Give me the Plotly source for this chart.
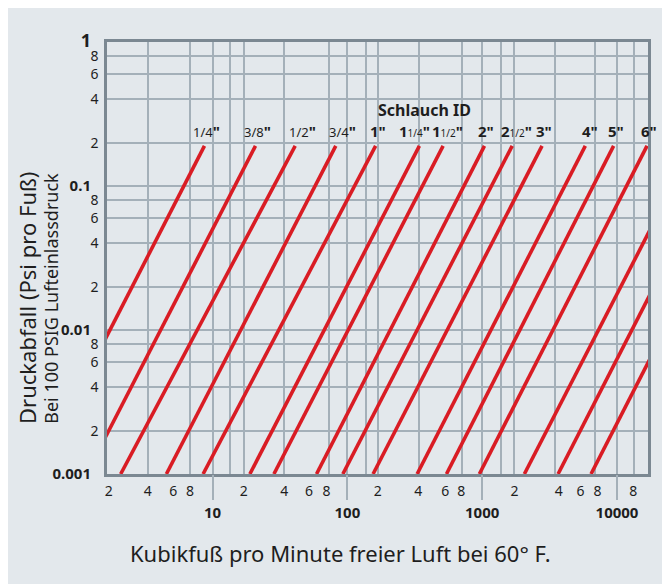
import math
import plotly.graph_objects as go

# hose inner diameters; the three largest lines carry no label in the chart
hose_labels = ["1/4", "3/8", "1/2", "3/4", "1", "1 1/4", "1 1/2", "2", "2 1/2",
               "3", "4", "5", "6", "", "", ""]
# flow (cfm) where each line reaches 0.19 psi/ft and 0.001 psi/ft
flow_top = [8.7, 20.8, 41, 82, 162, 342, 513, 1040, 1670, 2780, 5820, 9440,
            16700, 36800, 64600, 113500]
flow_bottom = [0.49, 1.16, 2.08, 4.54, 8.5, 18.9, 28.5, 59, 92.5, 155, 329, 543,
               953, 2055, 3655, 6415]
drop_top = 0.19
drop_bottom = 0.001

x_grid_vals = [3.32, 6.83, 10, 13.5, 17, 34, 72.5, 100, 138, 169, 337, 708,
               1000, 1378, 1710, 3443, 6900, 10000, 13280]
x_minor_vals = [1.7, 3.3, 5.1, 6.8, 17, 34, 52, 70, 168, 335, 533, 700,
                1740, 3690, 5370, 7180, 13200]
x_minor_text = ["2", "4", "6", "8"] * 4 + ["8"]
x_major_vals = [10, 100, 1000, 10000]
x_major_text = ["10", "100", "1000", "10000"]

y_minor_vals = [0.8, 0.6, 0.4, 0.2, 0.08, 0.06, 0.04, 0.02,
                0.008, 0.006, 0.004, 0.002]
y_minor_text = ["8", "6", "4", "2"] * 3
y_major_vals = [1, 0.1, 0.01, 0.001]
y_major_text = ["1", "0.1", "0.01", "0.001"]

FONT = "Noto Sans"
INK = "#1e1e1e"
RED = "#d91c24"
BG = "#e3e8ec"
GRID = "#a4b0b9"
FRAME = "#7b8892"
X_RANGE = [0.2166, 4.23]
Y_RANGE = [-3, 0]

# small horizontal nudges (px) for crowded labels
LABEL_NUDGE = {"1 1/4": -7, "1 1/2": 2, "1/2": 5, "3/4": 5, "4": 3, "2 1/2": 2}


def label_html(s):
    parts = s.split(" ")
    if "/" not in parts[-1]:
        return "<b>%s\"</b>" % s
    if len(parts) == 1:
        return "<span style='font-size:13px'>%s</span><b>\"</b>" % s
    return "<b>%s</b><span style='font-size:10px'>%s</span><b>\"</b>" % (parts[0], parts[1])


fig = go.Figure()

for lo, hi in zip(flow_bottom, flow_top):
    fig.add_trace(go.Scatter(
        x=[lo, hi], y=[drop_bottom, drop_top], mode="lines",
        line=dict(color=RED, width=3.6), showlegend=False, hoverinfo="skip"
    ))

# empty traces so the label-only axes get drawn
fig.add_trace(go.Scatter(x=[], y=[], xaxis="x2", yaxis="y", showlegend=False))
fig.add_trace(go.Scatter(x=[], y=[], xaxis="x3", yaxis="y", showlegend=False))
fig.add_trace(go.Scatter(x=[], y=[], xaxis="x", yaxis="y2", showlegend=False))

# annotations on log axes take log10 positions
for lab, xv in zip(hose_labels, flow_top):
    if not lab:
        continue
    fig.add_annotation(
        x=math.log10(xv), y=math.log10(drop_top), text=label_html(lab),
        showarrow=False, xanchor="center", yanchor="bottom",
        xshift=2 + LABEL_NUDGE.get(lab, 0), yshift=3,
        font=dict(family=FONT, size=15, color=INK)
    )

fig.add_annotation(
    x=0.5865, y=0.842, xref="paper", yref="paper", text="<b>Schlauch ID</b>",
    showarrow=False, xanchor="center", yanchor="middle",
    font=dict(family=FONT, size=16, color=INK)
)
fig.add_annotation(
    x=0.431, y=-0.183, xref="paper", yref="paper",
    text="Kubikfuß pro Minute freier Luft bei 60° F.",
    showarrow=False, xanchor="center", yanchor="middle",
    font=dict(family=FONT, size=22, color=INK)
)
fig.add_annotation(
    x=-0.148, y=0.111, xref="paper", yref="paper", textangle=-90,
    text="Druckabfall (Psi pro Fuß)",
    showarrow=False, xanchor="center", yanchor="bottom",
    font=dict(family=FONT, size=22, color=INK)
)
fig.add_annotation(
    x=-0.105, y=0.111, xref="paper", yref="paper", textangle=-90,
    text="Bei 100 PSIG Lufteinlassdruck",
    showarrow=False, xanchor="center", yanchor="bottom",
    font=dict(family=FONT, size=18, color=INK)
)

fig.update_layout(
    width=670, height=584, autosize=False,
    margin=dict(l=99, r=30, t=34, b=118),
    paper_bgcolor=BG, plot_bgcolor=BG,
    font=dict(family=FONT, color=INK),
    xaxis=dict(
        type="log", range=X_RANGE, tickvals=x_grid_vals, showticklabels=False,
        showgrid=True, gridcolor=GRID, gridwidth=1.6, ticks="",
        showline=True, mirror=True, linecolor=FRAME, linewidth=2.5, zeroline=False
    ),
    xaxis2=dict(
        type="log", range=X_RANGE, overlaying="x", anchor="y", side="bottom",
        tickvals=x_minor_vals, ticktext=x_minor_text, showgrid=False,
        ticks="outside", ticklen=4, tickcolor="rgba(0,0,0,0)",
        tickfont=dict(family=FONT, size=14, color=INK), showline=False
    ),
    xaxis3=dict(
        type="log", range=X_RANGE, overlaying="x", anchor="y", side="bottom",
        tickvals=x_major_vals, ticktext=["<b>%s</b>" % t for t in x_major_text],
        showgrid=False, ticks="outside", ticklen=25, tickwidth=2, tickcolor=GRID,
        tickfont=dict(family=FONT, size=15, color=INK), showline=False
    ),
    yaxis=dict(
        type="log", range=Y_RANGE, tickvals=y_minor_vals + y_major_vals,
        ticktext=y_minor_text + [""] * len(y_major_vals),
        showgrid=True, gridcolor=GRID, gridwidth=1.6,
        ticks="outside", ticklen=3, tickcolor="rgba(0,0,0,0)",
        tickfont=dict(family=FONT, size=14, color=INK),
        showline=True, mirror=True, linecolor=FRAME, linewidth=2.5, zeroline=False
    ),
    yaxis2=dict(
        type="log", range=Y_RANGE, overlaying="y", anchor="x", side="left",
        tickvals=y_major_vals,
        ticktext=["<span style='font-size:18px'><b>1</b></span>"]
                 + ["<b>%s</b>" % t for t in y_major_text[1:]],
        showgrid=False, ticks="outside", ticklen=12, tickcolor="rgba(0,0,0,0)",
        tickfont=dict(family=FONT, size=15, color=INK), showline=False
    ),
)

fig.write_html("out.html")
